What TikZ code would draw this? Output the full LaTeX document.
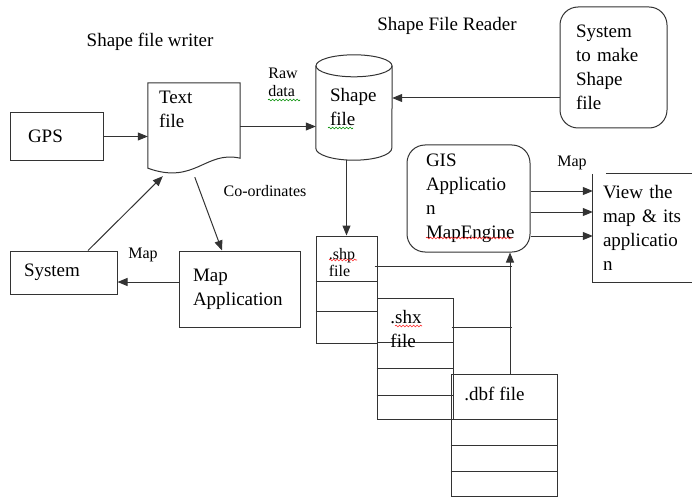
\documentclass[tikz,border=0pt]{standalone}
\usepackage{fontspec}
\setmainfont{LiberationSerif}[Extension=.ttf,UprightFont=*-Regular,BoldFont=*-Bold]
\usetikzlibrary{arrows.meta,positioning,calc,decorations.pathmorphing}
\newcommand\bigfs{\fontsize{19}{24}\selectfont}
\newcommand\smallfs{\fontsize{16}{18}\selectfont}
\tikzset{
  >={Triangle[length=10pt,width=8pt]},
  % boxes
  bx/.style={draw=black!80,line width=1pt,inner sep=0pt,font=\bigfs,align=left},
  rbx/.style={bx,rounded corners=18pt},
  sh/.style={inner sep=0pt,font=\bigfs,align=left},
  ln/.style={draw=black!80,line width=1pt},
  ar/.style={->,draw=black!80,line width=1pt},
  lb/.style={font=\smallfs,inner sep=0pt,align=left},
  ttl/.style={font=\bigfs,inner sep=0pt},
  % spelling marks
  sq/.style={decorate,decoration={snake,amplitude=0.9pt,segment length=3.5pt},line width=0.6pt},
}

\begin{document}
\begin{tikzpicture}[x=1pt,y=-1pt]
  \useasboundingbox (0,0) rectangle (692,497);
  % titles
  \node[ttl] (wtitle) at (150,42) {Shape file writer};
  \node[ttl] (rtitle) at (447,26) {Shape File Reader};

  % writer side
  \node[bx,minimum width=93,minimum height=47,text width=57] (gps) at (56.5,136.5) {GPS};
  \node[minimum width=92,minimum height=87,inner sep=0pt] (txt) at (194,126.5) {};
  \draw[ln] (txt.north west) -- (txt.north east) -- ($(txt.south east)+(0,-12)$)
    .. controls ($(txt.south east)+(-35,-20)$) and ($(txt.south)+(1,15)$) .. ($(txt.south west)+(0,-2)$) -- cycle;
  \node[sh,anchor=north west] (txtl) at ($(txt.north west)+(11,8)$) {Text\\file};
  \node[bx,minimum width=107,minimum height=43,text width=79] (sys) at (63.5,272.5) {System};
  \node[bx,minimum width=121,minimum height=76,text width=93] (mapp) at (239.5,289) {Map\\Application};

  % reader side
  \node[sh,minimum width=76,minimum height=105,text width=48] (cyl) at (354,107.5) {Shape\\file};
  \draw[ln] ($(cyl.north)+(0,11)$) ellipse[x radius=38,y radius=11];
  \draw[ln] ($(cyl.north west)+(0,11)$) -- ($(cyl.south west)+(0,-12)$)
    arc[start angle=180,end angle=0,x radius=38,y radius=12] -- ($(cyl.north east)+(0,11)$);
  \node[rbx,minimum width=107,minimum height=121,text width=75] (smk) at (613.5,67.5) {System\\to make\\Shape\\file};
  \node[rbx,minimum width=123,minimum height=107,text width=85] (gis) at (468.5,198.5) {GIS\\Applicatio\\n\\MapEngine};
  \node[sh,minimum width=100,minimum height=108,text width=80] (view) at (643,228) {View the\\map \& its\\applicatio\\n};
  \draw[ln] ($(view.north west)+(13,0)$) -- (view.north east);
  \draw[ln] (view.north west) -- (view.south west) -- (view.south east);

  % file stack
  \node[bx,minimum width=61,minimum height=107] (shpb) at (346.5,289.5) {};
  \node[bx,minimum width=76,minimum height=121] (shxb) at (415,358.5) {};
  \node[bx,minimum width=106,minimum height=122] (dbfb) at (504,435) {};
  \foreach \y in {46,76}
    \draw[ln] ($(shpb.north west)+(0,\y)$) -- ($(shpb.north east)+(0,\y)$);
  \foreach \y in {45,71,98}
    \draw[ln] ($(shxb.north west)+(0,\y)$) -- ($(shxb.north east)+(0,\y)$);
  \foreach \y in {46,72,98}
    \draw[ln] ($(dbfb.north west)+(0,\y)$) -- ($(dbfb.north east)+(0,\y)$);
  \node[lb,font=\fontsize{16}{17}\selectfont] (shpt) at (342,263) {.shp\\file};
  \node[sh] (shxt) at (406,328.5) {.shx\\file};
  \node[sh] (dbft) at (494.5,394) {.dbf file};

  % connectors
  \draw[ar] (gps) -- (gps -| txt.west);
  \draw[ar] (txt.east) -- (txt.east -| cyl.west);
  \draw[ar] ($(sys.north)+(24.5,0)$) -- ($(txt.south west)+(15,6)$);
  \draw[ar] ($(txt.south west)+(47,7)$) -- ($(mapp.north)+(-17.5,0)$);
  \coordinate (mout) at ($(mapp.west)+(0,-7)$);
  \draw[ar] (mout) -- (mout -| sys.east);
  \coordinate (smkout) at ($(smk.west)+(0,30.5)$);
  \draw[ar] (smkout) -- (smkout -| cyl.east);
  \draw[ar] (shpb.north |- cyl.south) -- (shpb.north);
  \foreach \dy in {-7.5,13.5,37.5}{
    \coordinate (g) at ($(gis.east)+(0,\dy)$);
    \draw[ar] (g) -- (g -| view.west);
  }
  \coordinate (up) at ($(dbfb.north)+(6,0)$);
  \draw[ar] (up) -- (up |- gis.south);
  \coordinate (a1) at ($(shpb.north east)+(-3,31)$);
  \draw[ln] (a1) -- ($(a1 -| up)+(2,0)$);
  \coordinate (a2) at ($(shxb.north east)+(-2,30)$);
  \draw[ln] (a2) -- ($(a2 -| up)+(2,0)$);

  % labels
  \node[lb] (lraw) at (283,82) {Raw\\data};
  \node[lb] (lco) at (265,191) {Co-ordinates};
  \node[lb] (lmap1) at (143,255) {Map};
  \node[lb] (lmap2) at (572,163) {Map};

  % spelling marks
  \draw[sq,green!55!black] (268,100) -- (300,100);
  \draw[sq,green!55!black] (328,128) -- (353,128);
  \draw[sq,red!85] (329,260) -- (357,260);
  \draw[sq,red!85] (395,326) -- (422,326);
  \draw[sq,red!85] (426,238) -- (512,238);
\end{tikzpicture}
\end{document}
